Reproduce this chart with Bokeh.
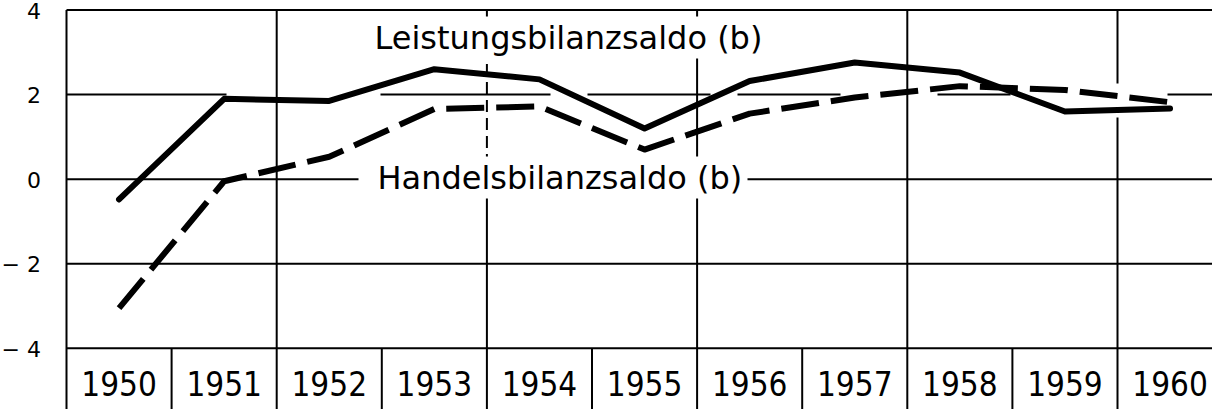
from bokeh.plotting import figure
from bokeh.embed import file_html
from bokeh.resources import INLINE
from bokeh.core.properties import value
from bokeh.models import Range1d

# ---------------- data ----------------
years = [1950, 1951, 1952, 1953, 1954, 1955, 1956, 1957, 1958, 1959, 1960]
leistungsbilanzsaldo = [-0.48, 1.90, 1.85, 2.60, 2.36, 1.20, 2.32, 2.76, 2.52, 1.60, 1.67]
handelsbilanzsaldo = [-3.05, -0.05, 0.53, 1.66, 1.72, 0.70, 1.55, 1.93, 2.20, 2.11, 1.82]
y_ticks = [4, 2, 0, -2, -4]
y_tick_labels = ["4", "2", "0", "\u2212 2", "\u2212 4"]
year_labels = [str(y) for y in years]
series_labels = ["Leistungsbilanzsaldo (b)", "Handelsbilanzsaldo (b)"]

# ---------------- layout helpers (page pixels -> data) ----------------
CELL = 105.1          # px per year
LEFT_PX = 66.0        # page x of 1949.5
Y0_PX = 178.66        # page y of value 0
PX_UNIT = 42.285      # px per unit on y
W, H = 1212, 409
TXT = 10              # text baseline correction (px)


def px2x(px):
    return years[0] - 0.5 + (px - LEFT_PX) / CELL


def px2y(py):
    return (Y0_PX - py) / PX_UNIT


x_start, x_end = px2x(0), px2x(W)
y_top, y_bottom = px2y(0), px2y(H)
x_left = years[0] - 0.5
x_right = x_end + 0.1

p = figure(width=W, height=H,
           x_range=Range1d(x_start, x_end), y_range=Range1d(y_bottom, y_top),
           output_backend="svg", toolbar_location=None,
           x_axis_type=None, y_axis_type=None, min_border=0)
p.outline_line_color = None
p.background_fill_color = "white"
p.border_fill_color = "white"

GRID = dict(line_color="black", line_width=2)

# horizontal lines at 4, -2, -4 (full)
full_h = [y_ticks[0], y_ticks[3], y_ticks[4]]
p.segment(x0=[x_left] * 3, y0=full_h, x1=[x_right] * 3, y1=full_h, **GRID)

# line at 2 (interrupted where the curves run close to it)
two_px = [(66, 226), (380, 550), (587, 710), (737, 840), (937, 1010), (1167, 1215)]
p.segment(x0=[px2x(a) for a, b in two_px], y0=[y_ticks[1]] * len(two_px),
          x1=[px2x(b) for a, b in two_px], y1=[y_ticks[1]] * len(two_px), **GRID)

# zero line, broken by the label
zero_px = [(66, 358), (747, 1215)]
p.segment(x0=[px2x(a) for a, b in zero_px], y0=[0, 0],
          x1=[px2x(b) for a, b in zero_px], y1=[0, 0], **GRID)

# left border from top to bottom
p.segment(x0=[x_left], y0=[y_ticks[0]], x1=[x_left], y1=[y_bottom - 0.1], **GRID)

# vertical lines inside the plot
solid_v = [1951.5, 1955.5, 1957.5]
p.segment(x0=solid_v, y0=[4] * 3, x1=solid_v, y1=[-4] * 3, **GRID)
p.segment(x0=[1953.5], y0=[4], x1=[1953.5], y1=[0], line_dash="12 6", **GRID)
p.segment(x0=[1953.5], y0=[0], x1=[1953.5], y1=[-4], **GRID)
p.segment(x0=[1959.5, 1959.5], y0=[4, px2y(117)], x1=[1959.5, 1959.5],
          y1=[px2y(83), -4], **GRID)

# year row separators
seps = [y + 0.5 for y in years[:-1]]
p.segment(x0=seps, y0=[-4] * len(seps), x1=seps, y1=[y_bottom - 0.1] * len(seps), **GRID)

# y labels
p.text(x=[px2x(40.5)] * len(y_ticks),
       y=[t + px2y(Y0_PX + 10.7 - TXT) for t in y_ticks],
       text=y_tick_labels, text_align="right", text_baseline="alphabetic",
       text_font=value("DejaVu Sans"), text_font_size="22px", text_color="black")

# year labels
p.text(x=years, y=[px2y(393 - TXT)] * len(years), text=year_labels,
       text_align="center", text_baseline="alphabetic",
       text_font=value("Liberation Sans Narrow, DejaVu Sans Condensed, Roboto Condensed, Roboto"),
       text_font_size="33px", text_color="black")

# series labels (white background interrupts grid lines)
p.text(x=[px2x(372), px2x(375)], y=[px2y(47 - TXT), px2y(187 - TXT)], text=series_labels,
       text_align="left", text_baseline="alphabetic",
       text_font=value("DejaVu Sans"), text_font_size="32px", text_color="black",
       background_fill_color="white", padding=2)

# data lines
p.line(years, leistungsbilanzsaldo, line_color="black", line_width=6,
       line_join="round", line_cap="round")
p.line(years, handelsbilanzsaldo, line_color="black", line_width=6,
       line_dash="38 12", line_join="round", line_cap="butt")

open("out.html", "w").write(file_html(p, INLINE))
